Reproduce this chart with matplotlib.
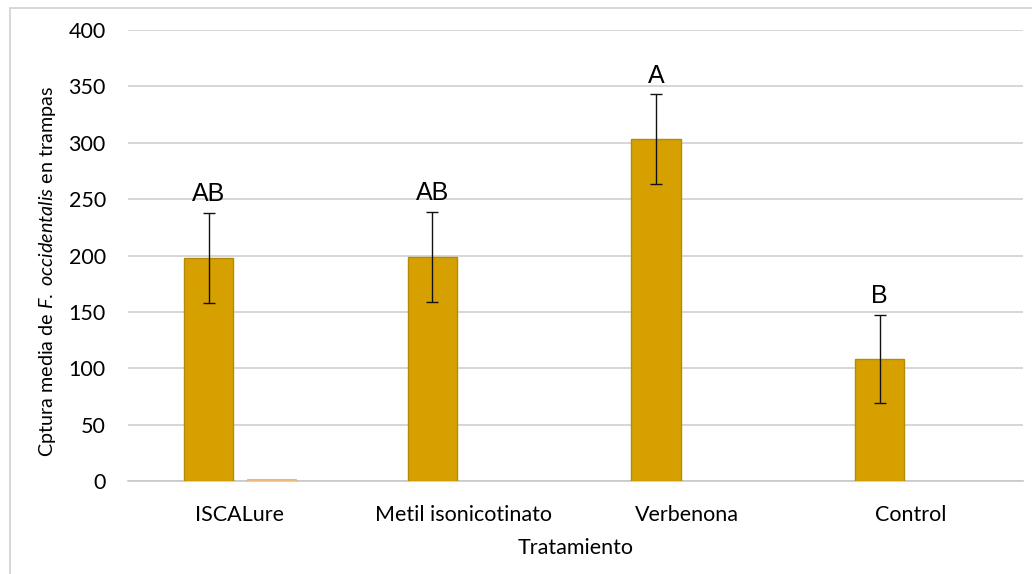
import numpy as np
import matplotlib
matplotlib.use("Agg")
from matplotlib import pyplot as plt
from matplotlib.patches import Rectangle

categories = ["ISCALure", "Metil isonicotinato", "Verbenona", "Control"]
means = [198, 199, 303, 108]
errors = [40, 40, 40, 39]
second = [1.5, 0, 0, 0]
letters = ["AB", "AB", "A", "B"]
yticks = [0, 50, 100, 150, 200, 250, 300, 350, 400]

plt.rcParams["font.family"] = ["Lato", "DejaVu Sans"]
plt.rcParams["mathtext.fontset"] = "custom"
plt.rcParams["mathtext.it"] = "Lato:italic"
plt.rcParams["mathtext.rm"] = "Lato"

fig = plt.figure(figsize=(10.32, 5.74), dpi=100)
ax = fig.add_axes([128 / 1032, 93 / 574, 895 / 1032, 451 / 574])

x = np.arange(len(categories))
w = 0.22
ax.bar(x - 0.14, means, width=w, color="#D6A100", edgecolor="#B58A08",
       linewidth=1, zorder=3)
ax.errorbar(x - 0.14, means, yerr=errors, fmt="none", ecolor="#111111",
            elinewidth=1, capsize=4, capthick=1, zorder=4)
ax.bar(x + 0.14, second, width=w, color="#EDB87C", edgecolor="#E0A868",
       linewidth=0.5, zorder=3)

for xi, m, e, l in zip(x, means, errors, letters):
    ax.text(xi - 0.14, m + e + 6, l, ha="center", va="bottom",
            fontsize=18, family="Liberation Sans", color="black", zorder=5)

ax.set_xlim(-0.5, len(categories) - 0.5)
ax.set_ylim(0, 400)
ax.set_yticks(yticks)
ax.set_xticks(x)
ax.set_xticklabels(categories, fontsize=15.5)
ax.tick_params(axis="both", length=0, labelsize=15.5)
ax.tick_params(axis="y", pad=16)
ax.tick_params(axis="x", pad=17)
ax.yaxis.grid(True, color="#d0d0d0", linewidth=1.2, zorder=0)
ax.set_axisbelow(True)
for s in ["top", "right", "left"]:
    ax.spines[s].set_visible(False)
ax.spines["bottom"].set_color("#c8c8c8")
ax.spines["bottom"].set_linewidth(1.2)

ax.set_xlabel("Tratamiento", fontsize=15.5, labelpad=10)
ax.set_ylabel(r"Cptura media de $F.\ occidentalis$ en trampas", fontsize=14.2)
ax.yaxis.set_label_coords(-0.078, 0.466)

# outer chart frame
fig.patches.append(Rectangle((10 / 1032, -0.01), 1.02, 1 - 8 / 574 + 0.01,
                             transform=fig.transFigure, fill=False,
                             edgecolor="#d0d0d0", linewidth=1.2))

fig.savefig("out.png", dpi=100)
